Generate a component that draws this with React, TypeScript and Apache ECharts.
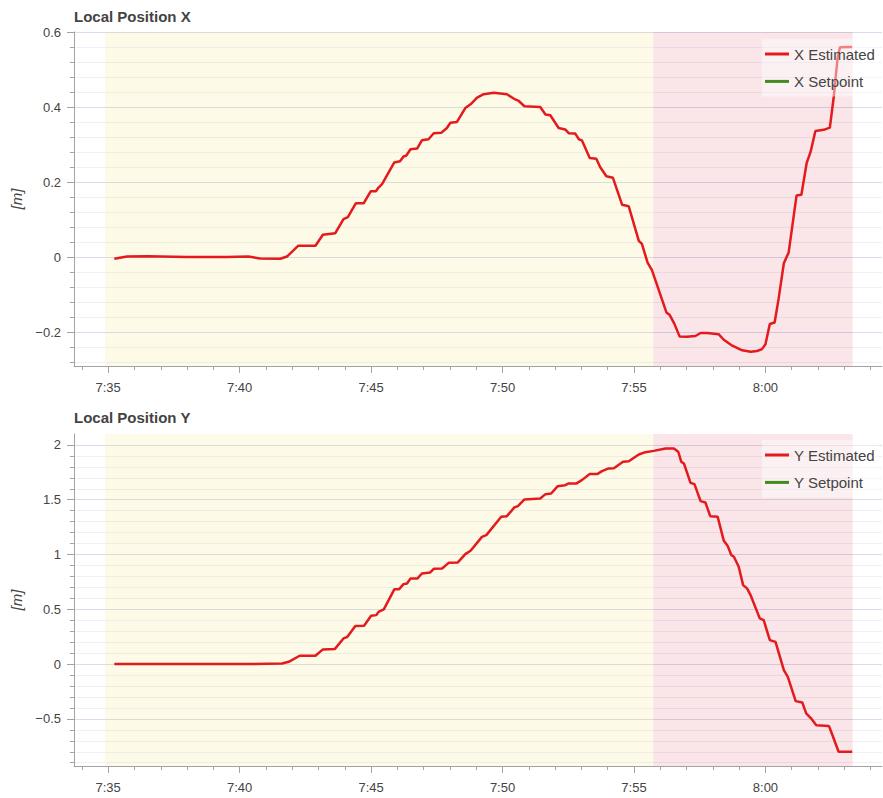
import React, { useEffect, useRef } from 'react';
import * as echarts from 'echarts';

// ---------- data ----------
const xTimes = [
  '7:35:14', '7:35:43', '7:36:30', '7:38:00', '7:39:30', '7:40:20', '7:40:47', '7:41:33', '7:41:48',
  '7:42:14', '7:42:53', '7:43:10', '7:43:38', '7:43:57', '7:44:07', '7:44:25', '7:44:43', '7:44:59',
  '7:45:11', '7:45:17', '7:45:25', '7:45:53', '7:46:06', '7:46:14', '7:46:20', '7:46:30', '7:46:45',
  '7:46:56', '7:47:11', '7:47:23', '7:47:40', '7:47:53', '7:48:01', '7:48:16', '7:48:35', '7:48:47',
  '7:49:02', '7:49:17', '7:49:40', '7:49:55', '7:50:10', '7:50:29', '7:50:37', '7:50:50', '7:51:26',
  '7:51:38', '7:51:49', '7:52:08', '7:52:23', '7:52:31', '7:52:46', '7:52:54', '7:53:01', '7:53:19',
  '7:53:34', '7:53:43', '7:53:57', '7:54:12', '7:54:33', '7:54:48', '7:55:11', '7:55:18', '7:55:31',
  '7:55:41', '7:56:14', '7:56:21', '7:56:32', '7:56:44', '7:57:01', '7:57:20', '7:57:32', '7:57:47',
  '7:58:13', '7:58:25', '7:58:42', '7:59:07', '7:59:26', '7:59:41', '7:59:52', '8:00:00', '8:00:10',
  '8:00:21', '8:00:30', '8:00:42', '8:00:53', '8:01:11', '8:01:22', '8:01:34', '8:01:43', '8:01:54',
  '8:02:13', '8:02:27', '8:02:36', '8:02:45', '8:02:50', '8:03:18',
];
const xEstimated = [
  -0.003, 0.003, 0.004, 0.002, 0.002, 0.003, -0.002, -0.003, 0.003,
  0.032, 0.032, 0.061, 0.065, 0.103, 0.108, 0.145, 0.145, 0.177,
  0.177, 0.187, 0.196, 0.254, 0.257, 0.27, 0.272, 0.289, 0.291,
  0.313, 0.316, 0.332, 0.333, 0.346, 0.36, 0.362, 0.399, 0.409,
  0.427, 0.436, 0.44, 0.438, 0.436, 0.422, 0.418, 0.404, 0.402,
  0.382, 0.38, 0.346, 0.342, 0.332, 0.331, 0.316, 0.313, 0.266,
  0.264, 0.241, 0.217, 0.213, 0.141, 0.137, 0.045, 0.037, -0.013,
  -0.033, -0.146, -0.152, -0.176, -0.21, -0.211, -0.209, -0.201, -0.201,
  -0.204, -0.219, -0.233, -0.247, -0.251, -0.249, -0.244, -0.231, -0.177,
  -0.173, -0.11, -0.015, 0.014, 0.166, 0.168, 0.252, 0.282, 0.338,
  0.341, 0.347, 0.43, 0.536, 0.561, 0.562,
];
const xSetpoint: number[] = [];

const yTimes = [
  '7:35:14', '7:38:00', '7:40:24', '7:41:37', '7:41:52', '7:42:17', '7:42:53', '7:43:10', '7:43:37',
  '7:43:57', '7:44:06', '7:44:24', '7:44:44', '7:45:00', '7:45:12', '7:45:17', '7:45:29', '7:45:53',
  '7:46:04', '7:46:14', '7:46:22', '7:46:30', '7:46:46', '7:46:56', '7:47:15', '7:47:23', '7:47:42',
  '7:47:57', '7:48:18', '7:48:35', '7:48:47', '7:49:13', '7:49:23', '7:49:57', '7:50:10', '7:50:27',
  '7:50:35', '7:50:50', '7:51:26', '7:51:38', '7:51:51', '7:52:06', '7:52:23', '7:52:31', '7:52:49',
  '7:53:01', '7:53:19', '7:53:36', '7:53:47', '7:54:02', '7:54:14', '7:54:35', '7:54:48', '7:55:11',
  '7:55:26', '7:55:45', '7:56:12', '7:56:31', '7:56:41', '7:56:48', '7:56:54', '7:57:09', '7:57:18',
  '7:57:32', '7:57:43', '7:57:54', '7:58:11', '7:58:25', '7:58:34', '7:58:42', '7:58:48', '7:58:59',
  '7:59:09', '7:59:18', '7:59:26', '7:59:47', '7:59:56', '8:00:10', '8:00:23', '8:00:42', '8:00:51',
  '8:01:09', '8:01:24', '8:01:33', '8:01:44', '8:01:56', '8:02:25', '8:02:30', '8:02:47', '8:03:18',
];
const yEstimated = [
  0.0, 0.0, 0.0, 0.006, 0.021, 0.076, 0.076, 0.134, 0.137,
  0.234, 0.249, 0.347, 0.35, 0.441, 0.447, 0.477, 0.499, 0.682,
  0.684, 0.73, 0.736, 0.782, 0.782, 0.827, 0.837, 0.87, 0.873,
  0.924, 0.928, 1.004, 1.034, 1.161, 1.177, 1.344, 1.35, 1.43,
  1.442, 1.503, 1.512, 1.551, 1.557, 1.624, 1.633, 1.649, 1.649,
  1.679, 1.734, 1.734, 1.761, 1.786, 1.788, 1.846, 1.852, 1.913,
  1.934, 1.946, 1.968, 1.968, 1.938, 1.846, 1.831, 1.654, 1.642,
  1.487, 1.475, 1.35, 1.344, 1.125, 1.077, 0.995, 0.979, 0.888,
  0.721, 0.691, 0.63, 0.417, 0.401, 0.219, 0.203, -0.055, -0.116,
  -0.338, -0.35, -0.45, -0.495, -0.559, -0.566, -0.617, -0.8, -0.8,
];
const ySetpoint: number[] = [];

// flight mode spans (start, end)
const modeStarts = ['7:34:53', '7:55:44'];
const modeEnds = ['7:55:44', '8:03:19'];

const timeRange = ['7:33:42', '8:04:26'];
const timeTickLabels = ['7:35', '7:40', '7:45', '7:50', '7:55', '8:00'];
const xPosRange = [-0.289, 0.602];
const xPosTicks = [-0.2, 0, 0.2, 0.4, 0.6];
const yPosRange = [-0.93, 2.1];
const yPosTicks = [-0.5, 0, 0.5, 1, 1.5, 2];

// ---------- helpers ----------
const toSec = (s: string) => {
  const p = s.split(':').map(Number);
  return p[0] * 3600 + p[1] * 60 + (p[2] || 0);
};
const fmtTime = (v: number) => {
  const h = Math.floor(v / 3600);
  const m = Math.round((v - h * 3600) / 60);
  return `${h}:${String(m).padStart(2, '0')}`;
};
const fmtNum = (v: number) => String(v).replace('-', '\u2212');

const FONT = '"Liberation Sans", Arial, Helvetica, sans-serif';
const AXIS = '#a3a3a3';
const TEXT = '#444444';
const RED = '#e41a1c';
const GREEN = '#418c1e';
const MODE_COLORS = ['rgba(240,210,20,0.1)', 'rgba(204,0,30,0.1)'];

const tickSecs = timeTickLabels.map(toSec);

function xAxis(gridIndex: number) {
  return {
    type: 'value',
    gridIndex,
    min: toSec(timeRange[0]),
    max: toSec(timeRange[1]),
    minInterval: 300,
    maxInterval: 300,
    axisLine: { show: true, onZero: false, lineStyle: { color: AXIS, width: 1 } },
    axisTick: { show: true, length: 7, customValues: tickSecs, lineStyle: { color: AXIS } },
    minorTick: { show: true, splitNumber: 5, length: 4, lineStyle: { color: AXIS } },
    axisLabel: {
      customValues: tickSecs,
      formatter: fmtTime,
      margin: 15,
      color: TEXT,
      fontSize: 13,
      fontFamily: FONT,
    },
    splitLine: { show: false },
    minorSplitLine: { show: false },
  };
}

function yAxis(gridIndex: number, range: number[], ticks: number[], step: number) {
  return {
    type: 'value',
    gridIndex,
    min: range[0],
    max: range[1],
    minInterval: step,
    maxInterval: step,
    name: '[m]',
    nameLocation: 'middle',
    nameGap: 47,
    nameTextStyle: { fontStyle: 'italic', fontSize: 15, color: TEXT, fontFamily: FONT },
    axisLine: { show: true, onZero: false, lineStyle: { color: AXIS, width: 1 } },
    axisTick: { show: true, length: 7, customValues: ticks, lineStyle: { color: AXIS } },
    minorTick: { show: true, splitNumber: 5, length: 4, lineStyle: { color: AXIS } },
    axisLabel: {
      customValues: ticks,
      formatter: fmtNum,
      margin: 13,
      color: TEXT,
      fontSize: 13,
      fontFamily: FONT,
    },
    splitLine: { show: true, lineStyle: { color: 'rgba(0,0,128,0.14)', width: 1 } },
    minorSplitLine: { show: true, lineStyle: { color: 'rgba(0,0,128,0.06)', width: 1 } },
  };
}

const modeAreas = modeStarts.map((s, i) => [
  { xAxis: toSec(s), itemStyle: { color: MODE_COLORS[i] } },
  { xAxis: toSec(modeEnds[i]) },
]);

function legend(top: number, names: string[]) {
  return {
    data: names,
    orient: 'vertical',
    left: 762,
    top,
    padding: [6, 4, 6, 3],
    itemGap: 9.4,
    itemWidth: 24,
    itemHeight: 3,
    icon: 'rect',
    backgroundColor: 'rgba(255,255,255,0.45)',
    selectedMode: false,
    textStyle: { color: TEXT, fontSize: 15, fontFamily: FONT, lineHeight: 18 },
  };
}

function estSeries(idx: number, name: string, times: string[], vals: number[]) {
  return {
    name,
    type: 'line',
    xAxisIndex: idx,
    yAxisIndex: idx,
    data: times.map((t, i) => [toSec(t), vals[i]]),
    showSymbol: false,
    symbol: 'none',
    color: RED,
    lineStyle: { color: RED, width: 2.5 },
    z: 3,
    markArea: { silent: true, data: modeAreas },
  };
}

function spSeries(idx: number, name: string, vals: number[]) {
  return {
    name,
    type: 'line',
    xAxisIndex: idx,
    yAxisIndex: idx,
    data: vals,
    showSymbol: false,
    symbol: 'none',
    color: GREEN,
    lineStyle: { color: GREEN, width: 2.5 },
    z: 3,
  };
}

export default function App() {
  const ref = useRef<HTMLDivElement>(null);
  useEffect(() => {
    if (!ref.current) return;
    const chart = echarts.init(ref.current, undefined, { renderer: 'svg' });
    chart.setOption({
      animation: false,
      backgroundColor: '#ffffff',
      textStyle: { fontFamily: FONT },
      title: [
        {
          text: 'Local Position X',
          left: 74,
          top: 9,
          padding: 0,
          textStyle: { fontSize: 15, fontWeight: 'bold', color: TEXT, fontFamily: FONT },
        },
        {
          text: 'Local Position Y',
          left: 74,
          top: 410,
          padding: 0,
          textStyle: { fontSize: 15, fontWeight: 'bold', color: TEXT, fontFamily: FONT },
        },
      ],
      legend: [legend(39, ['X Estimated', 'X Setpoint']), legend(440, ['Y Estimated', 'Y Setpoint'])],
      grid: [
        { left: 74, top: 32, width: 808, height: 334, outerBoundsMode: 'none', containLabel: false },
        { left: 74, top: 434, width: 808, height: 332, outerBoundsMode: 'none', containLabel: false },
      ],
      xAxis: [xAxis(0), xAxis(1)],
      yAxis: [yAxis(0, xPosRange, xPosTicks, 0.2), yAxis(1, yPosRange, yPosTicks, 0.5)],
      series: [
        estSeries(0, 'X Estimated', xTimes, xEstimated),
        spSeries(0, 'X Setpoint', xSetpoint),
        estSeries(1, 'Y Estimated', yTimes, yEstimated),
        spSeries(1, 'Y Setpoint', ySetpoint),
      ],
    });
    return () => chart.dispose();
  }, []);
  return (
    <div
      ref={ref}
      style={{ position: 'absolute', left: 0, top: 0, width: 883, height: 798 }}
    />
  );
}
